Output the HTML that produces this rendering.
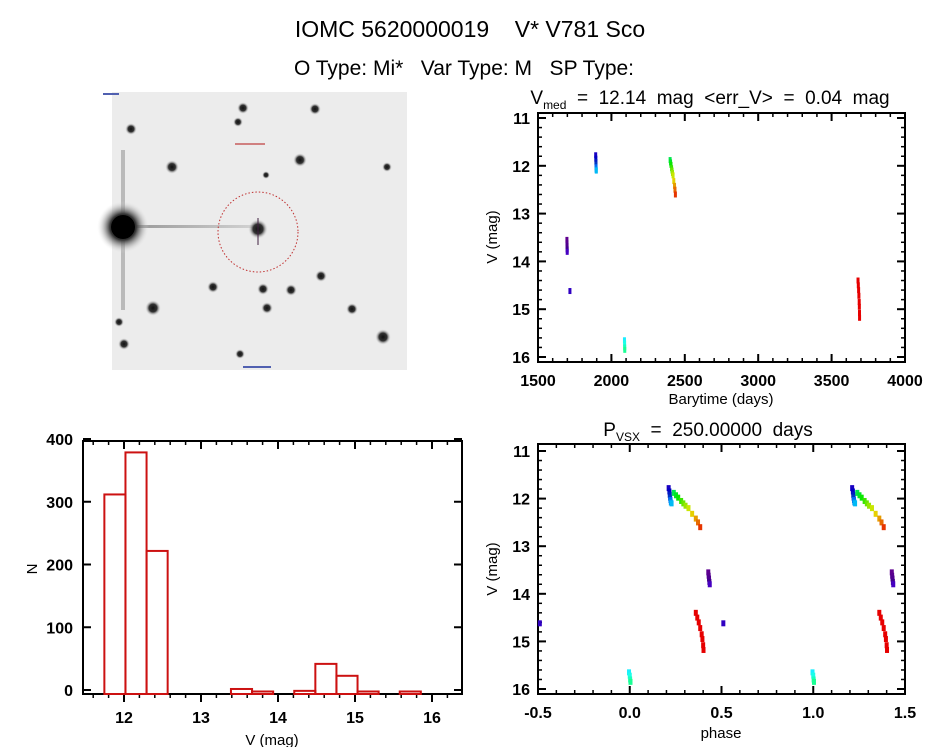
<!DOCTYPE html>
<html><head><meta charset="utf-8"><style>
html,body{margin:0;padding:0;background:#fff}
svg{display:block}
text{font-family:"Liberation Sans",sans-serif;fill:#000;white-space:pre}
</style></head><body>
<svg id="root" width="944" height="747" viewBox="0 0 944 747" xmlns="http://www.w3.org/2000/svg" xml:space="preserve">
<text x="470" y="37" font-size="23" text-anchor="middle">IOMC 5620000019    V* V781 Sco</text>
<text x="464" y="75" font-size="21" text-anchor="middle">O Type: Mi*   Var Type: M   SP Type:</text>
<g id="sky"></g>
<g id="lc"></g>
<g id="ph"></g>
<g id="hist"></g>
</svg>
<script>
// ---- data ----
const obsTime = [1697,1697.5,1698,1698.5,1699, 1717.5,
  1893,1894,1894.5,1895,1895.5,1896,1897,
  2089,2090,2090.5,2091,
  2400,2403,2406,2410,2413,2416,2420,2425,2430,2433,2436,
  3680,3682,3684,3686,3688,3689,3690,3690.5];
const obsMag = [13.55,13.62,13.68,13.75,13.8, 14.62,
  11.78,11.85,11.92,11.98,12.03,12.08,12.1,
  15.65,15.72,15.8,15.85,
  11.88,11.93,11.98,12.05,12.1,12.15,12.2,12.32,12.42,12.5,12.6,
  14.4,14.5,14.6,14.72,14.85,14.95,15.08,15.18];
const period = 250;
const epoch = 2090;
const lcXTicks = [1500,2000,2500,3000,3500,4000];
const magTicks = [11,12,13,14,15,16];
const phaseTicks = [-0.5,0.0,0.5,1.0,1.5];
const phaseTickLabels = ["-0.5","0.0","0.5","1.0","1.5"];
const histStart = 11.745;
const histWidth = 0.274;
const histCounts = [318,385,228,0,0,0,8,4,0,5,48,29,4,0,4];
const histXTicks = [12,13,14,15,16];
const histYTicks = [0,100,200,300,400];

const NS="http://www.w3.org/2000/svg";
function el(p,tag,attrs){const e=document.createElementNS(NS,tag);for(const k in attrs)e.setAttribute(k,attrs[k]);p.appendChild(e);return e;}
function lin(d0,d1,r0,r1){return v=>r0+(v-d0)*(r1-r0)/(d1-d0);}

// colours by time rank
const order=obsTime.map((t,i)=>i).sort((a,b)=>obsTime[a]-obsTime[b]);
const rank=[];order.forEach((idx,r)=>rank[idx]=r);
const K=obsTime.filter(t=>t<3000).length;
function col(i){const h=Math.max(0,280*(1-Math.pow(Math.min(1,rank[i]/K),1.4)));
  const l=h>265?28:h>220?38:h>190?48:h>150?55:45;return `hsl(${h},100%,${l}%)`;}

function frame(g,x0,y0,x1,y1,xs,ys,xt,xl,yt,yl,minorX,minorY){
  const f=el(g,'rect',{x:x0,y:y0,width:x1-x0,height:y1-y0,fill:'none',stroke:'#000','stroke-width':2});
  
  
  xt.forEach((v,i)=>{const x=xs(v);
    el(g,'line',{x1:x,x2:x,y1:y1,y2:y1-8,stroke:'#000','stroke-width':2});
    el(g,'line',{x1:x,x2:x,y1:y0,y2:y0+8,stroke:'#000','stroke-width':2});
    const t=el(g,'text',{x:x,y:y1+24,'font-size':16,'text-anchor':'middle','font-weight':'bold'});t.textContent=xl[i];
    
    });
  minorX.forEach(v=>{const x=xs(v);
    el(g,'line',{x1:x,x2:x,y1:y1,y2:y1-4,stroke:'#000','stroke-width':1.5});
    el(g,'line',{x1:x,x2:x,y1:y0,y2:y0+4,stroke:'#000','stroke-width':1.5});});
  yt.forEach((v,i)=>{const y=ys(v);
    el(g,'line',{x1:x0,x2:x0+8,y1:y,y2:y,stroke:'#000','stroke-width':2});
    el(g,'line',{x1:x1,x2:x1-8,y1:y,y2:y,stroke:'#000','stroke-width':2});
    const t=el(g,'text',{x:x0-8,y:y+6,'font-size':16,'text-anchor':'end','font-weight':'bold'});t.textContent=yl[i];
    
    });
  minorY.forEach(v=>{const y=ys(v);
    el(g,'line',{x1:x0,x2:x0+4,y1:y,y2:y,stroke:'#000','stroke-width':1.5});
    el(g,'line',{x1:x1,x2:x1-4,y1:y,y2:y,stroke:'#000','stroke-width':1.5});});
}
function label(g,x,y,txt,name,rot){const t=el(g,'text',{x:x,y:y,'font-size':15,'text-anchor':'middle'});
  if(rot)t.setAttribute('transform',`rotate(-90 ${x} ${y})`);t.textContent=txt;
  
  return t;}
function range(a,b,s){const r=[];for(let v=a;v<=b+1e-9;v+=s)r.push(+v.toFixed(4));return r;}

// ---- light curve ----
(function(){
 const g=document.getElementById('lc');
 const xs=lin(1500,4000,538,905), ys=lin(11,16,118,357);
 frame(g,538,113,905,362,xs,ys,lcXTicks,lcXTicks.map(String),magTicks,magTicks.map(String),range(1600,3900,100),range(11.2,15.8,0.2));
 const t=el(g,'text',{x:710,y:104,'font-size':19,'text-anchor':'middle'});
 t.innerHTML='V<tspan font-size="12" dy="5">med</tspan><tspan dy="-5">  =  12.14  mag  &lt;err_V&gt;  =  0.04  mag</tspan>';
 
 
 label(g,721,404,'Barytime (days)','x-axis-title');
 label(g,497,237,'V (mag)','y-axis-title',true);
 obsTime.forEach((tt,i)=>{const r=el(g,'rect',{x:xs(tt)-1.5,y:ys(obsMag[i])-3,width:3,height:6,fill:col(i)});
  
  });
})();

// ---- phase ----
(function(){
 const g=document.getElementById('ph');
 const xs=lin(-0.5,1.5,538,905), ys=lin(11,16,451,689);
 frame(g,538,444,905,694,xs,ys,phaseTicks,phaseTickLabels,magTicks,magTicks.map(String),range(-0.4,1.4,0.1),range(11.2,15.8,0.2));
 const t=el(g,'text',{x:708,y:436,'font-size':19,'text-anchor':'middle'});
 t.innerHTML='P<tspan font-size="12" dy="5">VSX</tspan><tspan dy="-5">  =  250.00000  days</tspan>';
 
 
 label(g,721,738,'phase','x-axis-title');
 label(g,497,569,'V (mag)','y-axis-title',true);
 obsTime.forEach((tt,i)=>{let p=((tt-epoch)/period)%1;if(p<0)p+=1;
  [p-1,p,p+1].forEach(ph=>{if(ph<-0.5||ph>1.5)return;
   const r=el(g,'rect',{x:xs(ph)-2,y:ys(obsMag[i])-3,width:4,height:6,fill:col(i)});
   
   });});
})();

// ---- histogram ----
(function(){
 const g=document.getElementById('hist');
 const xs=lin(12,16,124,432), ys=lin(0,400,694,443);
 const x0=83,x1=462,y0=441,y1=694;
 el(g,'rect',{x:x0,y:y0,width:x1-x0,height:y1-y0,fill:'none',stroke:'#000','stroke-width':2});
 histXTicks.forEach(v=>{const x=xs(v);
  el(g,'line',{x1:x,x2:x,y1:y1,y2:y1+8,stroke:'#000','stroke-width':2});
  el(g,'line',{x1:x,x2:x,y1:y0,y2:y0+8,stroke:'#000','stroke-width':2});
  const t=el(g,'text',{x:x,y:y1+29,'font-size':16,'text-anchor':'middle','font-weight':'bold'});t.textContent=v;
  
  });
 range(11.6,16.2,0.2).forEach(v=>{const x=xs(v);
  el(g,'line',{x1:x,x2:x,y1:y1,y2:y1+4,stroke:'#000','stroke-width':1.5});
  el(g,'line',{x1:x,x2:x,y1:y0,y2:y0+4,stroke:'#000','stroke-width':1.5});});
 histYTicks.forEach(v=>{const y=ys(v)-4;
  el(g,'line',{x1:x0,x2:x0+8,y1:y,y2:y,stroke:'#000','stroke-width':2});
  el(g,'line',{x1:x1,x2:x1-8,y1:y,y2:y,stroke:'#000','stroke-width':2});
  const t=el(g,'text',{x:x0-10,y:y+6,'font-size':16,'text-anchor':'end','font-weight':'bold'});t.textContent=v;
  
  });
 label(g,272,745,'V (mag)','x-axis-title');
 label(g,37,569,'N','y-axis-title',true);
 histCounts.forEach((c,i)=>{const xa=xs(histStart+i*histWidth),xb=xs(histStart+(i+1)*histWidth);
  const r=el(g,'rect',{x:xa,y:ys(c),width:xb-xa,height:ys(0)-ys(c),fill:'none',stroke:'#cc1111','stroke-width':2});
  
  });
})();

// ---- sky image ----
(function(){
 const g=document.getElementById('sky');
 el(g,'rect',{x:112,y:92,width:295,height:278,fill:'#ececec'});
 const defs=el(g,'defs',{});
 const rg=el(defs,'radialGradient',{id:'st'});
 el(rg,'stop',{offset:'0','stop-color':'#111'});el(rg,'stop',{offset:'0.5','stop-color':'#333'});el(rg,'stop',{offset:'1','stop-color':'#ececec','stop-opacity':0});
 const lg=el(defs,'linearGradient',{id:'sp'});
 el(lg,'stop',{offset:'0','stop-color':'#666'});el(lg,'stop',{offset:'1','stop-color':'#ccc'});
 el(g,'rect',{x:121,y:150,width:4,height:160,fill:'#999',opacity:0.6});
 el(g,'rect',{x:112,y:225,width:150,height:3,fill:'url(#sp)',opacity:0.7});
 el(g,'circle',{cx:123,cy:227,r:26,fill:'url(#st)'});
 el(g,'circle',{cx:123,cy:227,r:12,fill:'#000'});
 const stars=[[243,108,6],[315,109,6],[238,122,5],[131,129,6],[172,167,7],[300,160,7],[387,167,5],[258,229,10],[321,276,6],[213,287,6],[263,289,6],[291,290,6],[153,308,8],[267,308,6],[352,309,6],[383,337,8],[124,344,6],[240,354,5],[119,322,5],[266,175,4]];
 stars.forEach(s=>el(g,'circle',{cx:s[0],cy:s[1],r:s[2],fill:'url(#st)'}));
 el(g,'line',{x1:258,x2:258,y1:218,y2:245,stroke:'#402040','stroke-width':1});
 const c=el(g,'circle',{cx:258,cy:232,r:40,fill:'none',stroke:'#c03030','stroke-width':1,'stroke-dasharray':'1.5 2'});
 
 
 el(g,'rect',{x:235,y:143,width:30,height:2,fill:'#d08080'});
 el(g,'rect',{x:103,y:93,width:16,height:2,fill:'#5060b0'});
 el(g,'rect',{x:243,y:366,width:28,height:2,fill:'#5060b0'});
})();
</script>
</body></html>
